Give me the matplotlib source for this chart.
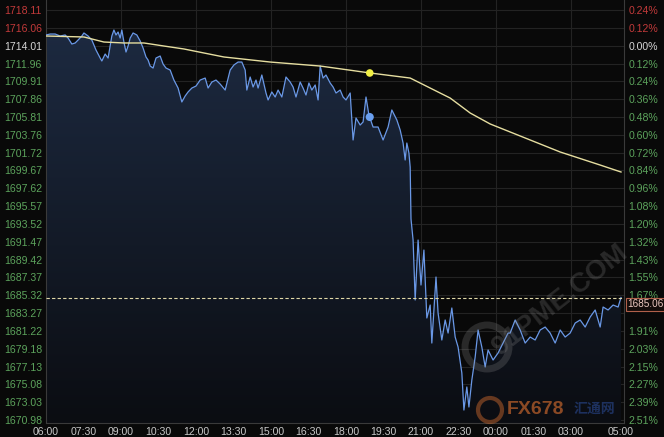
import numpy as np
import matplotlib
matplotlib.use("Agg")
import matplotlib.pyplot as plt
from matplotlib.patches import Circle

# ---------------- data ----------------
# minutes since 06:00
price_minutes = [0, 10, 22, 34, 46, 53, 62, 70, 77, 86, 91, 101, 110, 120, 130, 134, 142, 149, 154, 158,
                 163, 168, 173, 178, 182, 187, 192, 197, 202, 209, 218, 226, 233, 240, 245, 250, 257, 264,
                 274, 281, 288, 298, 307, 317, 326, 334, 341, 350, 360, 370, 382, 389, 398, 408, 418, 430,
                 442, 451, 461, 470, 478, 482, 490, 497, 504, 509, 518, 528, 533, 542, 550, 557, 566, 576,
                 586, 593, 600, 610, 617, 624, 631, 638, 646, 653, 658, 665, 672, 682, 689, 696, 706, 713,
                 720, 730, 737, 744, 754, 761, 768, 775, 785, 797, 809, 821, 830, 842, 850, 857, 862, 866,
                 871, 874, 876, 881, 886, 893, 900, 907, 914, 922, 926, 936, 941, 950, 958, 965, 974, 982,
                 989, 998, 1003, 1010, 1015, 1022, 1030, 1037, 1046, 1054, 1061, 1073, 1085, 1097, 1109,
                 1114, 1126, 1138, 1150, 1162, 1174, 1186, 1198, 1210, 1222, 1234, 1246, 1258, 1270, 1282,
                 1294, 1306, 1318, 1330, 1337, 1349, 1361, 1373, 1380]
price_values = [1715.24, 1715.35, 1715.35, 1715.12, 1715.24, 1714.89, 1714.20, 1714.32, 1714.66, 1715.12,
                1715.47, 1715.12, 1714.66, 1713.51, 1712.59, 1712.25, 1713.05, 1712.59, 1713.97, 1715.12,
                1715.81, 1715.24, 1715.58, 1714.89, 1715.81, 1714.43, 1713.28, 1713.97, 1714.89, 1715.47,
                1715.24, 1714.55, 1713.74, 1712.71, 1712.36, 1711.67, 1711.44, 1712.59, 1712.82, 1711.90,
                1711.44, 1711.21, 1710.06, 1709.14, 1707.54, 1708.23, 1708.69, 1709.14, 1709.37, 1710.06,
                1710.29, 1709.14, 1709.83, 1710.06, 1709.60, 1708.91, 1711.21, 1711.79, 1712.13, 1712.13,
                1711.21, 1708.91, 1710.41, 1709.26, 1710.06, 1709.14, 1710.64, 1708.57, 1707.77, 1708.69,
                1708.11, 1708.91, 1708.11, 1710.41, 1709.83, 1709.26, 1708.11, 1709.83, 1709.14, 1708.34,
                1709.72, 1708.91, 1709.49, 1707.77, 1711.67, 1710.29, 1710.64, 1709.72, 1709.26, 1708.57,
                1708.91, 1708.11, 1707.77, 1708.57, 1703.17, 1705.70, 1704.89, 1705.24, 1708.11, 1706.04,
                1704.66, 1704.66, 1703.17, 1704.66, 1706.62, 1705.47, 1704.32, 1702.82, 1700.87, 1702.82,
                1701.67, 1700.06, 1694.09, 1691.67, 1684.78, 1691.67, 1686.50, 1690.52, 1682.71, 1684.20,
                1679.83, 1687.42, 1683.28, 1680.18, 1682.48, 1680.98, 1683.86, 1680.52, 1679.37, 1676.39,
                1672.13, 1674.78, 1672.48, 1675.58, 1678.22, 1681.33, 1679.37, 1677.08, 1679.03, 1677.88,
                1678.69, 1679.83, 1680.98, 1680.98, 1682.48, 1681.33, 1679.83, 1680.52, 1680.18, 1681.33,
                1681.67, 1680.98, 1679.83, 1681.33, 1680.52, 1680.98, 1682.13, 1682.48, 1681.67, 1682.82,
                1683.63, 1681.67, 1683.97, 1683.63, 1684.20, 1683.97, 1685.06]

avg_minutes = [0, 91, 139, 187, 235, 283, 331, 379, 427, 538, 658, 778, 874, 922, 970, 1018, 1066,
               1138, 1234, 1330, 1380]
avg_values = [1715.12, 1715.01, 1714.43, 1714.32, 1714.32, 1713.97, 1713.63, 1713.17, 1712.71, 1712.13,
              1711.67, 1710.87, 1710.29, 1709.14, 1707.99, 1706.27, 1705.01, 1703.63, 1701.79, 1700.29,
              1699.49]

marker_minute = 777
marker_avg_price = 1710.87
marker_price = 1705.81
last_price = 1685.06

left_tick_labels = ["1718.11", "1716.06", "1714.01", "1711.96", "1709.91", "1707.86", "1705.81",
                    "1703.76", "1701.72", "1699.67", "1697.62", "1695.57", "1693.52", "1691.47",
                    "1689.42", "1687.37", "1685.32", "1683.27", "1681.22", "1679.18", "1677.13",
                    "1675.08", "1673.03", "1670.98"]
right_tick_labels = ["0.24%", "0.12%", "0.00%", "0.12%", "0.24%", "0.36%", "0.48%", "0.60%", "0.72%",
                     "0.84%", "0.96%", "1.08%", "1.20%", "1.32%", "1.43%", "1.55%", "1.67%", "1.79%",
                     "1.91%", "2.03%", "2.15%", "2.27%", "2.39%", "2.51%"]
hidden_right_label = "1.79%"   # covered by the last-price box in the original
reference_price = 1714.01

x_tick_minutes = [0, 90, 180, 270, 360, 450, 540, 630, 720, 810, 900, 990, 1080, 1170, 1260, 1380]
x_tick_labels = ["06:00", "07:30", "09:00", "10:30", "12:00", "13:30", "15:00", "16:30", "18:00",
                 "19:30", "21:00", "22:30", "00:00", "01:30", "03:00", "05:00"]
x_grid_minutes = [180, 360, 540, 720, 900, 1080, 1260]

# ---------------- style ----------------
W, H = 664, 437
BG = "#090909"
RED = "#c23a3a"
GREEN = "#5ca35c"
WHITE = "#d6d6d6"
GRID = "#232323"

plt.rcParams['font.family'] = ['Liberation Sans', 'DejaVu Sans', 'Noto Sans CJK SC']

fig = plt.figure(figsize=(W / 100, H / 100), dpi=100, facecolor=BG)
ax = fig.add_axes([46 / W, 1 - 423 / H, (624 - 46) / W, 423 / H])
ax.set_facecolor(BG)

ymin, ymax = 1670.64, 1719.26
xmin, xmax = 0, 1387.2
ax.set_xlim(xmin, xmax)
ax.set_ylim(ymin, ymax)

# grid
ytick_vals = [float(s) for s in left_tick_labels]
for v in ytick_vals:
    ax.axhline(v, color=GRID, lw=0.8, zorder=0)
for m in x_grid_minutes:
    ax.axvline(m, color=GRID, lw=0.8, zorder=0)


def label_color(v):
    if abs(v - reference_price) < 0.001:
        return WHITE
    return RED if v > reference_price else GREEN


# gradient fill under price line
pm = np.array(price_minutes, dtype=float)
pv = np.array(price_values, dtype=float)
poly = ax.fill_between(pm, pv, ymin, facecolor="none", edgecolor="none")
grad = np.linspace(0, 1, 256).reshape(-1, 1)
top_c = np.array([30, 44, 68]) / 255
bot_c = np.array([11, 13, 18]) / 255
img = top_c[None, None, :] * (1 - grad[:, :, None]) + bot_c[None, None, :] * grad[:, :, None]
im = ax.imshow(img, extent=[xmin, xmax, ymin, ymax], origin="upper", aspect="auto", zorder=1)
im.set_clip_path(poly.get_paths()[0], transform=ax.transData)

ax.plot(pm, pv, color="#6a98e6", lw=0.9, zorder=3)
ax.plot(avg_minutes, avg_values, color="#e6dea0", lw=1.0, zorder=3)

# markers
ax.scatter([marker_minute], [marker_avg_price], s=30, color="#f2f044", zorder=5, edgecolors="none")
ax.scatter([marker_minute], [marker_price], s=34, color="#6aa0f0", zorder=5, edgecolors="none")

# last price dashed line
ax.axhline(last_price, color="#e0d8a8", lw=0.8, ls=(0, (3, 2)), zorder=4)

# spines
ax.spines["top"].set_visible(False)
for s in ["left", "bottom", "right"]:
    ax.spines[s].set_color("#3a3a3a")
    ax.spines[s].set_linewidth(0.8)

# left ticks
ax.set_yticks(ytick_vals)
ax.set_yticklabels(left_tick_labels, fontsize=7.6)
for lbl, v in zip(ax.get_yticklabels(), ytick_vals):
    lbl.set_color(label_color(v))
ax.tick_params(axis="y", length=0, pad=3)

# x ticks
ax.set_xticks(x_tick_minutes)
ax.set_xticklabels(x_tick_labels, fontsize=7.6, color="#c8c8c8")
ax.tick_params(axis="x", length=0, pad=3)

# right ticks
ax2 = ax.twinx()
ax2.set_ylim(ymin, ymax)
ax2.set_yticks(ytick_vals)
ax2.set_yticklabels(right_tick_labels, fontsize=7.6)
for i, (lbl, v) in enumerate(zip(ax2.get_yticklabels(), ytick_vals)):
    lbl.set_color(label_color(v))
    if right_tick_labels[i] == hidden_right_label and i == 17:
        lbl.set_alpha(0.0)
ax2.tick_params(axis="y", length=0, pad=3)
for s in ax2.spines.values():
    s.set_visible(False)

# last price label box (figure level so it sits on top), slightly below the dashed line
fig.text(627 / W, 1 - 304 / H, f"{last_price:.2f}", fontsize=7.2, color="#ecc8c0",
         va="center", ha="left", zorder=20,
         bbox=dict(boxstyle="square,pad=0.15", facecolor="#140c0a", edgecolor="#b0604a", lw=0.8))

# watermarks
fig.text(560 / W, 1 - 300 / H, "91PME.COM", fontsize=20, color="#9a9a9a", alpha=0.22,
         rotation=38, ha="center", va="center", fontweight="bold")
ring = Circle((487, H - 347), 22, transform=None, fill=False, edgecolor="#8a8a8a", lw=5, alpha=0.25)
fig.patches.append(ring)
ring2 = Circle((490, H - 410), 12, transform=None, fill=False, edgecolor="#c2642c", lw=3, alpha=0.5)
fig.patches.append(ring2)
fig.text(536 / W, 1 - 409 / H, "FX678", fontsize=14, color="#c2642c", alpha=0.7,
         ha="center", va="center", fontweight="bold")
fig.text(594 / W, 1 - 409 / H, "汇通网", fontsize=10, color="#2c4e9c", alpha=0.55,
         ha="center", va="center", fontweight="bold",
         family=['Noto Sans CJK SC', 'DejaVu Sans'])

fig.savefig("out.png", dpi=100, facecolor=BG)
